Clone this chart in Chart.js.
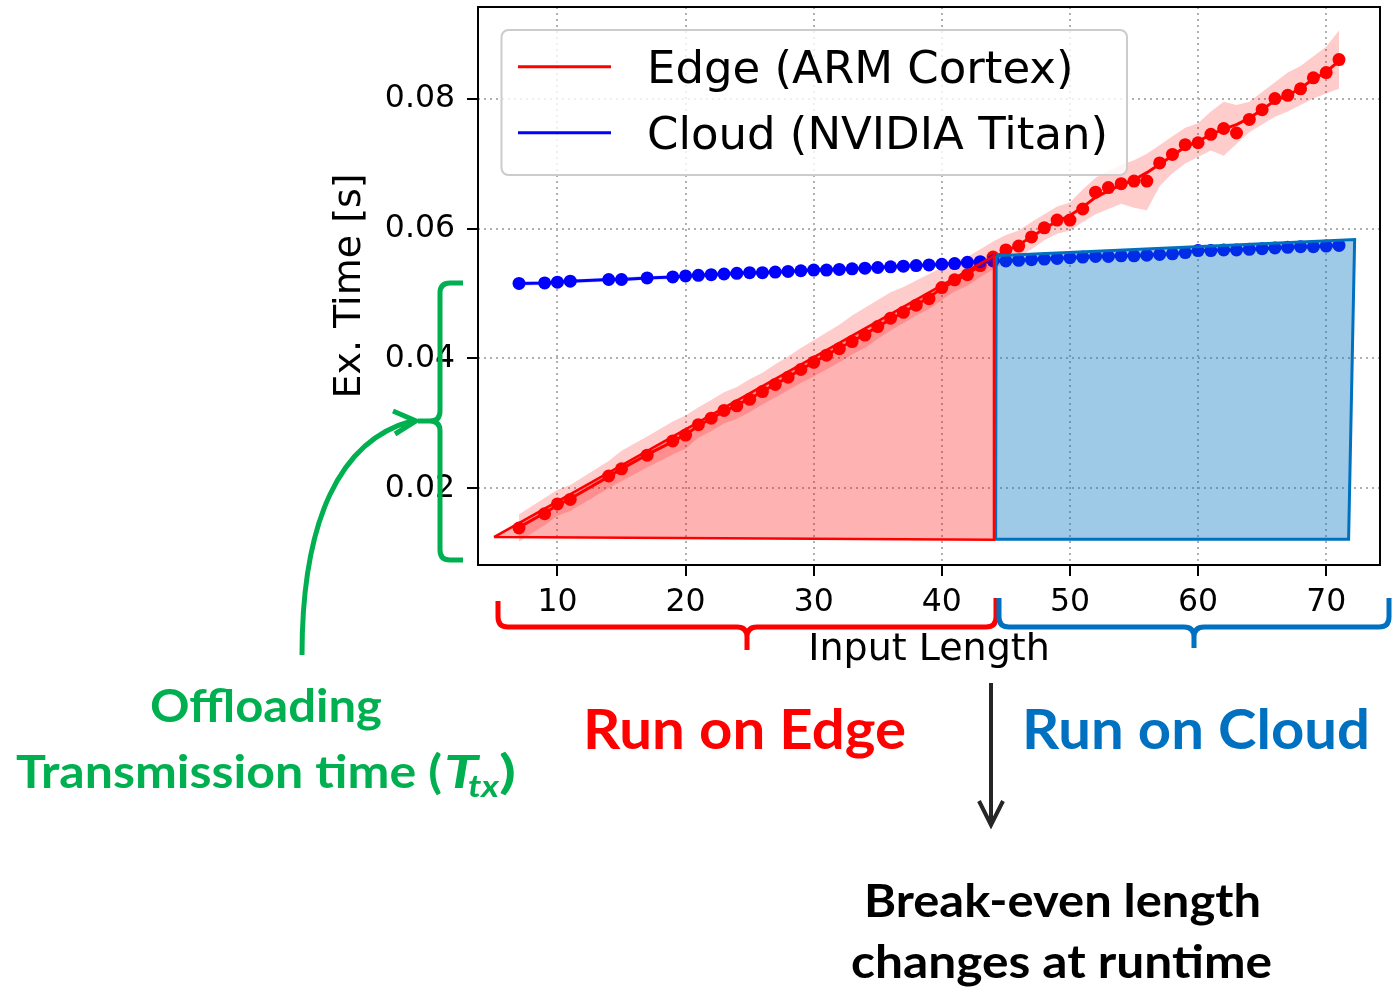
<!DOCTYPE html>
<html><head><meta charset="utf-8">
<script src="https://cdn.jsdelivr.net/npm/chart.js@4.4.1/dist/chart.umd.min.js"></script>
<style>
html,body{margin:0;padding:0;background:#fff;}
#wrap{position:relative;width:1392px;height:989px;overflow:hidden;background:#fff;}
#c{position:absolute;left:0;top:0;}
#ov{position:absolute;left:0;top:0;}
</style></head><body>
<div id="wrap">
<canvas id="c" width="1392" height="989"></canvas>
<svg id="ov" width="1392" height="989" xmlns="http://www.w3.org/2000/svg">
  <!-- legend -->
  <rect x="501.5" y="30" width="625.5" height="145" rx="7" fill="#ffffff" fill-opacity="0.8" stroke="#cccccc" stroke-width="2"/>
  <line x1="518" y1="66.7" x2="611" y2="66.7" stroke="#ff0000" stroke-width="3"/>
  <line x1="518" y1="132.7" x2="611" y2="132.7" stroke="#0000ff" stroke-width="3"/>
  <text x="647" y="83.3" font-family="DejaVu Sans" font-size="45" fill="#000">Edge (ARM Cortex)</text>
  <text x="647" y="149.3" font-family="DejaVu Sans" font-size="45" fill="#000">Cloud (NVIDIA Titan)</text>
  <!-- green brace + arrow -->
  <path d="M463 283 L450 283 Q440 283 440 293 L440 411 Q440 421 430 421 L418 421 M430 421 Q440 421 440 431 L440 550 Q440 560 450 560 L463 560" fill="none" stroke="#00b050" stroke-width="5"/>
  <path d="M302 655 C302 520 340 440 412 421" fill="none" stroke="#00b050" stroke-width="5"/>
  <path d="M393 411 L416 421 L395 434" fill="none" stroke="#00b050" stroke-width="5" stroke-linejoin="miter"/>
  <!-- red / blue braces -->
  <path d="M498 601 L498 617 Q498 627 508 627 L737 627 Q747 627 747 637 L747 650 M747 637 Q747 627 757 627 L986 627 Q996 627 996 617 L996 598" fill="none" stroke="#ff0000" stroke-width="5"/>
  <path d="M999 598 L999 617 Q999 627 1009 627 L1184 627 Q1194 627 1194 637 L1194 648 M1194 637 Q1194 627 1204 627 L1379 627 Q1389 627 1389 617 L1389 598" fill="none" stroke="#0070c0" stroke-width="5"/>
  <!-- black arrow -->
  <path d="M991 683 L991 822" fill="none" stroke="#262626" stroke-width="4"/>
  <path d="M979 801 L991 825 L1003 801" fill="none" stroke="#262626" stroke-width="4"/>
  <!-- annotation texts -->
  <g font-family="Lato" font-weight="700">
    <text x="150" y="722" font-size="46" fill="#00b050" textLength="232" lengthAdjust="spacingAndGlyphs">Offloading</text>
    <text x="16" y="788" font-size="46" fill="#00b050" textLength="426" lengthAdjust="spacingAndGlyphs">Transmission time (</text>
    <text x="444" y="788" font-size="46" font-style="italic" fill="#00b050" textLength="34" lengthAdjust="spacingAndGlyphs">T</text>
    <text x="468" y="797" font-size="31" font-style="italic" fill="#00b050" textLength="31" lengthAdjust="spacingAndGlyphs">tx</text>
    <text x="499" y="788" font-size="46" fill="#00b050" textLength="17" lengthAdjust="spacingAndGlyphs">)</text>
    <text x="583" y="749" font-size="55" fill="#ff0000" textLength="323" lengthAdjust="spacingAndGlyphs">Run on Edge</text>
    <text x="1022" y="749" font-size="55" fill="#0070c0" textLength="348" lengthAdjust="spacingAndGlyphs">Run on Cloud</text>
    <text x="864" y="917" font-size="45" fill="#000" textLength="397" lengthAdjust="spacingAndGlyphs">Break-even length</text>
    <text x="851" y="978" font-size="45" fill="#000" textLength="421" lengthAdjust="spacingAndGlyphs">changes at runtime</text>
  </g>
</svg>
</div>
<script>
// ---- data ----
const inputLength = [7,9,10,11,14,15,17,19,20,21,22,23,24,25,26,27,28,29,30,31,32,33,34,35,36,37,38,39,40,41,42,43,44,45,46,47,48,49,50,51,52,53,54,55,56,57,58,59,60,61,62,63,64,65,66,67,68,69,70,71];
const edgeTime = [0.0139,0.0161,0.0176,0.0183,0.0219,0.0230,0.0251,0.0273,
  0.0282,0.0298,0.0308,0.0320,0.0327,0.0337,0.0349,0.0360,0.0371,0.0383,
  0.0394,0.0405,0.0415,0.0426,0.0436,0.0449,0.0462,0.0471,0.0482,0.0492,
  0.0509,0.0521,0.0529,0.0543,0.0556,0.0567,0.0573,0.0587,0.0601,0.0613,
  0.0613,0.0630,0.0656,0.0663,0.0669,0.0673,0.0673,0.0701,0.0714,0.0729,
  0.0732,0.0745,0.0754,0.0747,0.0768,0.0783,0.0800,0.0805,0.0815,0.0832,
  0.0840,0.0860];
const edgeMean = [0.0140,0.0162,0.0174,0.0184,0.0218,0.0230,0.0252,0.0272,
  0.0283,0.0296,0.0308,0.0318,0.0328,0.0338,0.0349,0.0360,0.0371,0.0383,
  0.0394,0.0405,0.0416,0.0426,0.0437,0.0449,0.0460,0.0471,0.0482,0.0494,
  0.0508,0.0519,0.0530,0.0543,0.0555,0.0565,0.0575,0.0587,0.0600,0.0611,
  0.0620,0.0633,0.0648,0.0658,0.0667,0.0675,0.0686,0.0699,0.0712,0.0726,
  0.0734,0.0745,0.0753,0.0760,0.0770,0.0783,0.0797,0.0805,0.0816,0.0830,
  0.0841,0.0858];
const edgeUpper = [0.0160,0.0185,0.0198,0.0205,0.0242,0.0258,0.0280,0.0303,
  0.0312,0.0325,0.0336,0.0348,0.0356,0.0368,0.0378,0.0391,0.0403,0.0416,
  0.0428,0.0440,0.0452,0.0466,0.0478,0.0490,0.0502,0.0510,0.0520,0.0530,
  0.0540,0.0550,0.0556,0.0568,0.0580,0.0590,0.0597,0.0610,0.0622,0.0634,
  0.0640,0.0660,0.0678,0.0688,0.0698,0.0705,0.0715,0.0728,0.0742,0.0755,
  0.0762,0.0780,0.0795,0.0790,0.0795,0.0810,0.0825,0.0840,0.0850,0.0865,
  0.0880,0.0905];
const edgeLower = [0.0118,0.0143,0.0158,0.0165,0.0200,0.0211,0.0232,0.0252,
  0.0261,0.0278,0.0288,0.0300,0.0307,0.0317,0.0329,0.0340,0.0351,0.0362,
  0.0372,0.0383,0.0394,0.0406,0.0416,0.0430,0.0443,0.0454,0.0466,0.0476,
  0.0490,0.0503,0.0512,0.0525,0.0537,0.0548,0.0556,0.0568,0.0582,0.0592,
  0.0597,0.0610,0.0622,0.0630,0.0638,0.0632,0.0628,0.0665,0.0685,0.0700,
  0.0710,0.0720,0.0712,0.0730,0.0748,0.0760,0.0772,0.0780,0.0790,0.0800,
  0.0808,0.0815];
const cloudTime = [0.05154,0.05163,0.05174,0.0519,0.05215,0.05215,0.0524,0.05255,
  0.0527,0.0528,0.0529,0.0530,0.0531,0.0532,0.0532,0.0533,0.0534,0.0535,
  0.0536,0.0536,0.0537,0.0538,0.0539,0.0540,0.0541,0.0542,0.0543,0.0544,
  0.0545,0.0546,0.0548,0.0549,0.0550,0.0550,0.0551,0.0552,0.0553,0.0554,
  0.0555,0.0556,0.0557,0.0557,0.0558,0.0558,0.0559,0.0560,0.0561,0.0563,
  0.0566,0.0566,0.0567,0.0567,0.0568,0.0569,0.0570,0.0571,0.0572,0.0572,
  0.0573,0.0574];
const cloudUpper = [0.0518,0.0519,0.0520,0.0522,0.0524,0.0525,0.0527,0.0528,
  0.0530,0.0531,0.0532,0.0533,0.0534,0.0535,0.0535,0.0536,0.0537,0.0538,
  0.0539,0.0539,0.0540,0.0541,0.0542,0.0543,0.0544,0.0545,0.0546,0.0547,
  0.0548,0.0549,0.0551,0.0552,0.0553,0.0553,0.0554,0.0555,0.0556,0.0557,
  0.0558,0.0559,0.0560,0.0560,0.0561,0.0561,0.0562,0.0563,0.0564,0.0566,
  0.0569,0.0569,0.0570,0.0570,0.0571,0.0572,0.0573,0.0574,0.0575,0.0575,
  0.0576,0.0577];
const cloudLower = [0.0512,0.0513,0.0514,0.0516,0.0518,0.0519,0.0521,0.0522,
  0.0524,0.0525,0.0526,0.0527,0.0528,0.0529,0.0529,0.0530,0.0531,0.0532,
  0.0533,0.0533,0.0534,0.0535,0.0536,0.0537,0.0538,0.0539,0.0540,0.0541,
  0.0542,0.0543,0.0545,0.0546,0.0547,0.0547,0.0548,0.0549,0.0550,0.0551,
  0.0552,0.0553,0.0554,0.0554,0.0555,0.0555,0.0556,0.0557,0.0558,0.0560,
  0.0563,0.0563,0.0564,0.0564,0.0565,0.0566,0.0567,0.0568,0.0569,0.0569,
  0.0570,0.0571];
// shaded decision regions (data coordinates)
const edgeRegionX = [5.05, 44.07, 44.07, 5.05];
const edgeRegionY = [0.0125, 0.0558, 0.0121, 0.0125];
const cloudRegionX = [44.24, 72.22, 71.75, 44.20, 44.24];
const cloudRegionY = [0.0558, 0.0583, 0.01215, 0.01215, 0.0558];
// axis ticks
const xTicks = [10, 20, 30, 40, 50, 60, 70];
const yTicks = [0.02, 0.04, 0.06, 0.08];

// ---- chart ----
const pts = (xs, ys) => xs.map((x, i) => ({x: x, y: ys[i]}));
const NONE = 'rgba(0,0,0,0)';
const band = (ys, fill, bg, order) => ({
  data: pts(inputLength, ys), showLine: true, borderWidth: 0, borderColor: NONE,
  pointRadius: 0, fill: fill, backgroundColor: bg, order: order
});

const framePlugin = {
  id: 'frame',
  afterDatasetsDraw(chart) {
    const {ctx, chartArea: a} = chart;
    ctx.save();
    ctx.strokeStyle = '#000';
    ctx.lineWidth = 2;
    ctx.strokeRect(a.left, a.top, a.right - a.left, a.bottom - a.top);
    ctx.restore();
  }
};

const noPad = s => { s.paddingTop = 0; s.paddingBottom = 0; s.paddingLeft = 0; s.paddingRight = 0; };
const tickFont = {family: 'DejaVu Sans', size: 31.5};
const titleFont = {family: 'DejaVu Sans', size: 38};

new Chart(document.getElementById('c'), {
  type: 'scatter',
  data: {
    datasets: [
      {label: 'Edge region', data: pts(edgeRegionX, edgeRegionY), showLine: true, fill: 'shape',
       backgroundColor: 'rgba(255,0,0,0.3)', borderColor: '#ff0000', borderWidth: 2.5,
       borderJoinStyle: 'miter', pointRadius: 0, order: 0},
      {label: 'Cloud region', data: pts(cloudRegionX, cloudRegionY), showLine: true, fill: 'shape',
       backgroundColor: 'rgba(0,112,192,0.38)', borderColor: '#0070c0', borderWidth: 3,
       borderJoinStyle: 'miter', pointRadius: 0, order: 0},
      {label: 'Cloud (NVIDIA Titan)', data: pts(inputLength, cloudTime), showLine: true,
       borderColor: '#0000ff', borderWidth: 3, pointRadius: 6.5, pointBackgroundColor: '#0000ff',
       pointBorderWidth: 0, order: 1},
      {label: 'Edge samples', data: pts(inputLength, edgeTime), showLine: false,
       pointRadius: 6.5, pointBackgroundColor: '#ff0000', pointBorderWidth: 0, order: 2},
      {label: 'Edge (ARM Cortex)', data: pts(inputLength, edgeMean), showLine: true,
       borderColor: '#ff0000', borderWidth: 3, pointRadius: 0, order: 3},
      band(cloudUpper, '+1', 'rgba(0,0,255,0.2)', 4),
      band(cloudLower, false, NONE, 4),
      band(edgeUpper, '+1', 'rgba(255,0,0,0.2)', 5),
      band(edgeLower, false, NONE, 5)
    ]
  },
  options: {
    responsive: false,
    animation: false,
    events: [],
    layout: {padding: {left: 327, top: 7, right: 12, bottom: 314}},
    plugins: {legend: {display: false}, tooltip: {enabled: false}},
    scales: {
      x: {
        type: 'linear', min: 3.8, max: 74.2,
        afterBuildTicks: s => { s.ticks = xTicks.map(v => ({value: v})); },
        afterFit: s => { s.height = 110; noPad(s); },
        ticks: {font: tickFont, color: '#000', padding: 8, maxRotation: 0, autoSkip: false,
                callback: v => String(v)},
        grid: {color: '#b0b0b0', lineWidth: 2, tickColor: '#000', tickLength: 11, tickWidth: 2},
        border: {display: false, dash: [2, 4]},
        title: {display: true, text: 'Input Length', font: titleFont, color: '#000',
                padding: {top: 0, bottom: 2}}
      },
      y: {
        type: 'linear', min: 0.0082, max: 0.0941,
        afterBuildTicks: s => { s.ticks = yTicks.map(v => ({value: v})); },
        afterFit: s => { s.width = 151; noPad(s); },
        ticks: {font: tickFont, color: '#000', padding: 12, autoSkip: false,
                callback: v => Number(v).toFixed(2)},
        grid: {color: '#b0b0b0', lineWidth: 2, tickColor: '#000', tickLength: 11, tickWidth: 2},
        border: {display: false, dash: [2, 4]},
        title: {display: true, text: 'Ex. Time [s]', font: titleFont, color: '#000',
                padding: {top: 0, bottom: 0}}
      }
    }
  },
  plugins: [framePlugin]
});
</script>
</body></html>
